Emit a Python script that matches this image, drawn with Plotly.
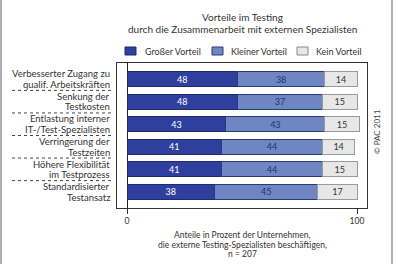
import plotly.graph_objects as go

categories = [
    "Verbesserter Zugang zu<br>qualif. Arbeitskräften",
    "Senkung der<br>Testkosten",
    "Entlastung interner<br>IT-/Test-Spezialisten",
    "Verringerung der<br>Testzeiten",
    "Höhere Flexibilität<br>im Testprozess",
    "Standardisierter<br>Testansatz",
]
series_names = ["Großer Vorteil", "Kleiner Vorteil", "Kein Vorteil"]
gross = [48, 48, 43, 41, 41, 38]
klein = [38, 37, 43, 44, 44, 45]
kein = [14, 15, 15, 14, 15, 17]
tick_vals = [0, 100]
tick_text = ["0", "100"]

FONT = "Lato"
colors = ["#2f3f9e", "#6e86c1", "#e7e7e7"]
line_colors = ["#1f2a70", "#2a3a80", "#9a9a9a"]
text_colors = ["#ffffff", "#22307a", "#333333"]

W, H = 396, 264
L, R, T, B = 117, 29, 63, 56
PW, PH = W - L - R, H - T - B


def px_x(px):
    return (px - L) / PW


def px_y(py):
    return (H - B - py) / PH


fig = go.Figure()
for name, vals, c, lc, tc in zip(series_names, [gross, klein, kein], colors, line_colors, text_colors):
    fig.add_trace(go.Bar(
        y=categories, x=vals, name=name, orientation="h",
        marker=dict(color=c, line=dict(color=lc, width=1)),
        text=vals, texttemplate="%{x}", textposition="inside",
        insidetextanchor="middle", textangle=0, constraintext="none",
        textfont=dict(family=FONT, size=9, color=tc),
        showlegend=False, hoverinfo="skip",
    ))

fig.update_layout(
    barmode="stack", bargap=0.34,
    width=W, height=H,
    margin=dict(l=L, r=R, t=T, b=B, pad=0),
    paper_bgcolor="white", plot_bgcolor="white",
    font=dict(family=FONT, color="#333333"),
    xaxis=dict(range=[-4.35, 104.35], tickvals=tick_vals, ticktext=tick_text,
               showgrid=False, zeroline=True, zerolinecolor="#222222", zerolinewidth=1,
               showline=True, mirror=True, linecolor="#333333", linewidth=1,
               ticks="outside", ticklen=5, tickcolor="#333333",
               tickfont=dict(family=FONT, size=8.5, color="#333333")),
    yaxis=dict(range=[5.715, -0.715], showgrid=False, zeroline=False,
               showline=True, mirror=True, linecolor="#333333", linewidth=1,
               ticks="", showticklabels=False),
)

shapes = []
# dotted separators between category labels
for i in range(len(categories) - 1):
    shapes.append(dict(type="line", xref="paper", yref="y",
                       x0=px_x(12), x1=px_x(112), y0=i + 0.5, y1=i + 0.5,
                       line=dict(color="#444444", width=1, dash="dot")))
# outer gray frame lines
for xp in (1, 392):
    shapes.append(dict(type="line", xref="paper", yref="paper",
                       x0=px_x(xp), x1=px_x(xp), y0=px_y(0), y1=px_y(H),
                       line=dict(color="#b0b0b0", width=2)))
# legend squares
legend_sq = [(125, 136), (212, 223), (297, 308)]
legend_tx = [143, 229, 314]
for (x0, x1), c, lc in zip(legend_sq, colors, line_colors):
    shapes.append(dict(type="rect", xref="paper", yref="paper",
                       x0=px_x(x0), x1=px_x(x1), y0=px_y(55), y1=px_y(47),
                       fillcolor=c, line=dict(color=lc if c != colors[2] else "#888888", width=1)))
fig.update_layout(shapes=shapes)

ann = []
# category labels, two lines each, right-aligned beside the plot box
for cat in categories:
    lines = cat.split("<br>")
    for j, ln in enumerate(lines):
        ann.append(dict(text=ln, xref="paper", yref="y", x=px_x(112), y=cat,
                        xanchor="right", yanchor="middle", showarrow=False,
                        yshift=5.3 if j == 0 else -5.3,
                        font=dict(family=FONT, size=9.5, color="#333333")))
for name, tx in zip(series_names, legend_tx):
    ann.append(dict(text=name, xref="paper", yref="paper", x=px_x(tx), y=px_y(51),
                    xanchor="left", yanchor="middle", showarrow=False,
                    font=dict(family=FONT, size=9, color="#333333")))
for txt, py in [("Vorteile im Testing", 17), ("durch die Zusammenarbeit mit externen Spezialisten", 29)]:
    ann.append(dict(text=txt, xref="paper", yref="paper", x=px_x(242), y=px_y(py),
                    xanchor="center", yanchor="middle", showarrow=False,
                    font=dict(family=FONT, size=10, color="#333333")))
for txt, py in [("Anteile in Prozent der Unternehmen,", 235),
                ("die externe Testing-Spezialisten beschäftigen,", 245),
                ("n = 207", 254)]:
    ann.append(dict(text=txt, xref="paper", yref="paper", x=px_x(242), y=px_y(py),
                    xanchor="center", yanchor="middle", showarrow=False,
                    font=dict(family=FONT, size=8.5, color="#333333")))
ann.append(dict(text="© PAC 2011", xref="paper", yref="paper", x=px_x(377), y=px_y(132),
                xanchor="center", yanchor="middle", showarrow=False, textangle=-90,
                font=dict(family=FONT, size=8, color="#444444")))
fig.update_layout(annotations=ann)

fig.write_html("out.html")
